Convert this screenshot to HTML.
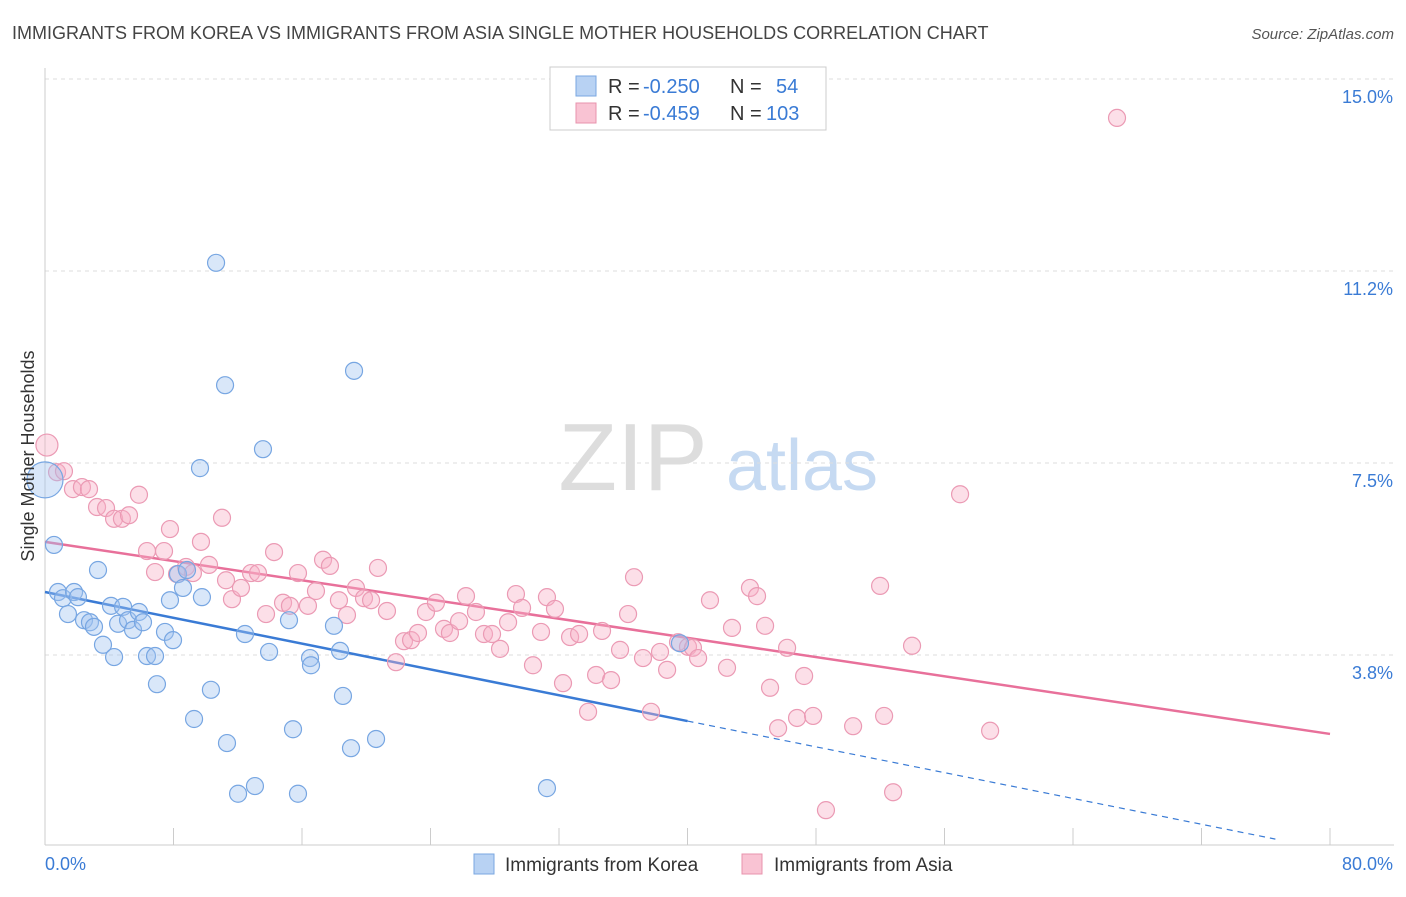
<!DOCTYPE html>
<html><head><meta charset="utf-8">
<style>
body{margin:0;background:#fff;font-family:"Liberation Sans",sans-serif;}
svg text{font-family:"Liberation Sans",sans-serif;}
</style></head>
<body>
<svg id="chart" width="1406" height="892" viewBox="0 0 1406 892" xmlns="http://www.w3.org/2000/svg">
<text x="12" y="39" font-size="18" fill="#444">IMMIGRANTS FROM KOREA VS IMMIGRANTS FROM ASIA SINGLE MOTHER HOUSEHOLDS CORRELATION CHART</text>
<text x="1394" y="39" font-size="15" fill="#555" text-anchor="end" font-style="italic">Source: ZipAtlas.com</text>
<g>
<text x="633" y="490" font-size="96" fill="#ddd" text-anchor="middle" font-family="Liberation Serif">ZIP</text>
<text x="802" y="490" font-size="72" fill="#c6daf2" text-anchor="middle">atlas</text>
</g>
<g id="grid"></g>
<g id="axes"></g>
<g id="trends"></g>
<g id="points"></g>
<text transform="translate(34,456) rotate(-90)" font-size="18" fill="#333" text-anchor="middle">Single Mother Households</text>
<g>
<rect x="550" y="67" width="276" height="63" fill="#fff" stroke="#ccc"/>
<rect x="576" y="76" width="20" height="20" fill="#b8d2f3" stroke="#7aa7e0"/>
<text x="608" y="93" font-size="20" fill="#333">R = </text>
<text x="643" y="93" font-size="20" fill="#3a7bd5">-0.250</text>
<text x="730" y="93" font-size="20" fill="#333">N = </text>
<text x="776" y="93" font-size="20" fill="#3a7bd5">54</text>
<rect x="576" y="103" width="20" height="20" fill="#f9c3d3" stroke="#e893ad"/>
<text x="608" y="120" font-size="20" fill="#333">R = </text>
<text x="643" y="120" font-size="20" fill="#3a7bd5">-0.459</text>
<text x="730" y="120" font-size="20" fill="#333">N = </text>
<text x="766" y="120" font-size="20" fill="#3a7bd5">103</text>
</g>
<g>
<rect x="474" y="854" width="20" height="20" fill="#b8d2f3" stroke="#7aa7e0"/>
<text x="505" y="871" font-size="19" fill="#333">Immigrants from Korea</text>
<rect x="742" y="854" width="20" height="20" fill="#f9c3d3" stroke="#e893ad"/>
<text x="774" y="871" font-size="19" fill="#333">Immigrants from Asia</text>
</g>
</svg>
<script>
const koreaX=[0.0,0.56,0.81,1.12,1.43,1.81,2.05,2.43,2.80,3.05,3.30,3.61,4.11,4.30,4.55,4.86,5.17,5.48,5.85,6.10,6.35,6.85,6.97,7.47,7.78,7.97,8.28,8.59,8.84,9.28,9.65,9.77,10.33,10.65,11.21,11.33,12.02,12.45,13.07,13.57,13.95,15.19,15.44,15.75,16.50,16.56,17.99,18.37,18.55,19.05,19.24,20.61,31.25,39.53];
const koreaY=[7.17,5.90,4.98,4.86,4.55,4.98,4.88,4.43,4.39,4.30,5.41,3.95,4.71,3.71,4.36,4.69,4.43,4.24,4.59,4.39,3.73,3.73,3.18,4.20,4.82,4.04,5.33,5.06,5.41,2.50,7.40,4.88,3.07,11.41,9.02,2.03,1.04,4.16,1.19,7.77,3.81,4.43,2.30,1.04,3.69,3.55,4.32,3.83,2.95,1.93,9.30,2.11,1.15,3.98];
const asiaX=[0.12,0.75,1.18,1.74,2.30,2.74,3.24,3.80,4.30,4.79,5.23,5.85,6.35,6.85,7.41,7.78,8.22,8.78,9.21,9.71,10.21,11.02,11.27,11.64,12.20,12.83,13.26,13.76,14.26,14.82,15.25,15.75,16.37,16.87,17.31,17.74,18.30,18.80,19.36,19.86,20.30,20.73,21.29,21.85,22.35,22.79,23.22,23.72,24.34,24.84,25.21,25.78,26.21,26.83,27.33,27.83,28.33,28.83,29.32,29.70,30.38,30.88,31.25,31.75,32.25,32.69,33.25,33.81,34.31,34.68,35.24,35.80,36.30,36.67,37.23,37.73,38.29,38.73,39.41,40.03,40.34,40.66,41.40,42.46,42.77,43.89,44.33,44.83,45.14,45.64,46.20,46.82,47.26,47.82,48.62,50.31,51.99,52.24,52.80,53.98,56.97,58.84,66.74];
const asiaY=[7.85,7.32,7.34,6.99,7.03,6.99,6.64,6.62,6.41,6.41,6.48,6.88,5.78,5.37,5.78,6.21,5.33,5.47,5.35,5.96,5.51,6.43,5.21,4.84,5.06,5.35,5.35,4.55,5.76,4.77,4.71,5.35,4.71,5.00,5.61,5.49,4.82,4.53,5.06,4.86,4.82,5.45,4.61,3.61,4.02,4.04,4.18,4.59,4.77,4.26,4.18,4.41,4.90,4.59,4.16,4.16,3.87,4.39,4.94,4.67,3.55,4.20,4.88,4.65,3.20,4.10,4.16,2.64,3.36,4.22,3.26,3.85,4.55,5.27,3.69,2.64,3.81,3.46,4.00,3.91,3.89,3.69,4.82,3.50,4.28,5.06,4.90,4.32,3.11,2.32,3.89,2.52,3.34,2.56,0.72,2.36,5.10,2.56,1.07,3.93,6.89,2.27,14.24];
const yTicks=[3.75,7.5,11.25,15.0];
const yTickLabels=["3.8%","7.5%","11.2%","15.0%"];
const xTicks=[0,8,16,24,32,40,48,56,64,72,80];
const koreaTrend=[4.98,-0.063]; // intercept, slope
const asiaTrend=[5.96,-0.0469];

const NS="http://www.w3.org/2000/svg";
const X=v=>45+v*(1285/80);
const Y=v=>847-v*51.2;
function mk(tag,attrs,parent){const e=document.createElementNS(NS,tag);for(const k in attrs)e.setAttribute(k,attrs[k]);parent.appendChild(e);return e;}
const grid=document.getElementById('grid'),axes=document.getElementById('axes'),trends=document.getElementById('trends'),pts=document.getElementById('points');

yTicks.forEach((t,i)=>{
  const ly=Y(t);
  const l=mk('line',{x1:45,x2:1394,y1:ly,y2:ly,stroke:'#ddd','stroke-dasharray':'4,4'},grid);
  
  
  const tx=mk('text',{x:1393,y:ly+24,'font-size':18,fill:'#3a7bd5','text-anchor':'end'},axes);
  tx.textContent=yTickLabels[i];
  
  
});
const ax=mk('line',{x1:45,x2:1394,y1:845,y2:845,stroke:'#ccc'},axes);


const ay=mk('line',{x1:45,x2:45,y1:68,y2:845,stroke:'#ccc'},axes);


xTicks.forEach(t=>{
  const l=mk('line',{x1:X(t),x2:X(t),y1:828,y2:845,stroke:'#ccc'},axes);
  
  
});
const xl0=mk('text',{x:45,y:870,'font-size':18,fill:'#3a7bd5'},axes);xl0.textContent='0.0%';


const xl1=mk('text',{x:1393,y:870,'font-size':18,fill:'#3a7bd5','text-anchor':'end'},axes);xl1.textContent='80.0%';



asiaX.forEach((x,i)=>{
  const c=mk('circle',{cx:X(x),cy:Y(asiaY[i]),r:i===0?11:8.5,fill:'rgba(247,175,198,0.4)',stroke:'#eb9ab4','stroke-width':1.2},pts);
  
  
});
koreaX.forEach((x,i)=>{
  const c=mk('circle',{cx:X(x),cy:Y(koreaY[i]),r:i===0?18:8.5,fill:'rgba(160,195,240,0.4)',stroke:'#77a6e2','stroke-width':1.2},pts);
  
  
});
const kmax=40;
const t1=mk('line',{x1:X(0),y1:Y(koreaTrend[0]),x2:X(kmax),y2:Y(koreaTrend[0]+koreaTrend[1]*kmax),stroke:'#3a7bd5','stroke-width':2.5},trends);


const t1d=mk('line',{x1:X(kmax),y1:Y(koreaTrend[0]+koreaTrend[1]*kmax),x2:X(76.6),y2:Y(koreaTrend[0]+koreaTrend[1]*76.6),stroke:'#3a7bd5','stroke-width':1.2,'stroke-dasharray':'6,5'},trends);


const t2=mk('line',{x1:X(0),y1:Y(asiaTrend[0]),x2:X(80),y2:Y(asiaTrend[0]+asiaTrend[1]*80),stroke:'#e8709a','stroke-width':2.5},trends);


</script>
</body></html>
